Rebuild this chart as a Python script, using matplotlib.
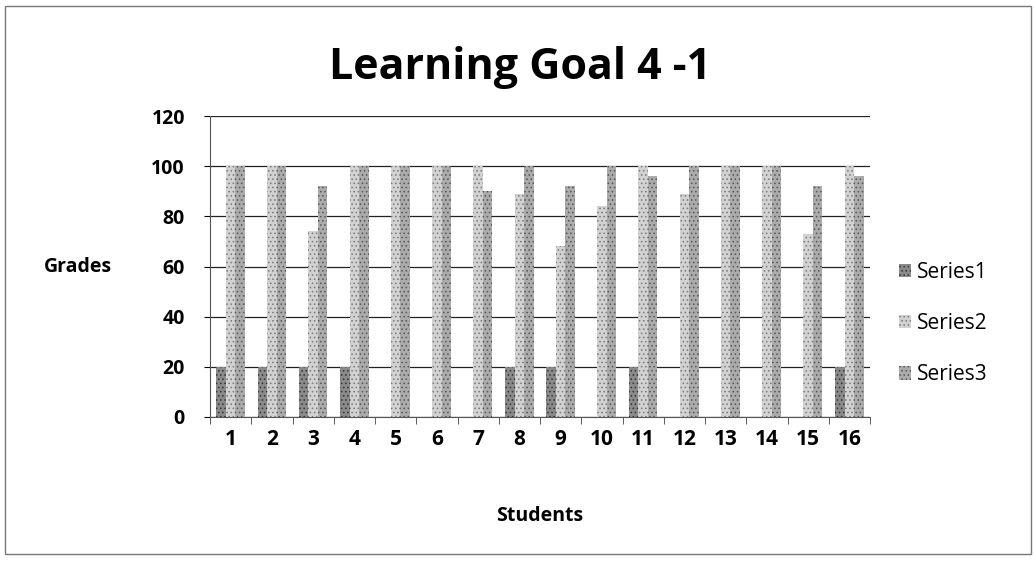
import numpy as np
import matplotlib.pyplot as plt
from matplotlib.patches import Rectangle

# data
students = [str(i) for i in range(1, 17)]
series1 = [20, 20, 20, 20, 0, 0, 0, 20, 20, 0, 20, 0, 0, 0, 0, 20]
series2 = [100, 100, 74, 100, 100, 100, 100, 89, 68, 84, 100, 89, 100, 100, 73, 100]
series3 = [100, 100, 92, 100, 100, 100, 90, 100, 92, 100, 96, 100, 100, 100, 92, 96]
series_names = ['Series1', 'Series2', 'Series3']

plt.rcParams['font.family'] = ['Open Sans', 'DejaVu Sans']
plt.rcParams['hatch.linewidth'] = 0.6

fig = plt.figure(figsize=(10.36, 5.61), dpi=100)
ax = fig.add_axes([0.2027, 0.2567, 0.6371, 0.5365])

x = np.arange(len(students))
w = 0.23
colors = ['#8a8a8a', '#d2d2d2', '#ababab']
hatch_cols = ['#333333', '#7a7a7a', '#555555']
for k, vals in enumerate([series1, series2, series3]):
    ax.bar(x + (k - 1) * w, vals, width=w, color=colors[k], edgecolor=hatch_cols[k],
           linewidth=0, hatch='....', label=series_names[k], zorder=3)

ax.set_xlim(-0.5, len(students) - 0.5)
ax.set_ylim(0, 120)
ax.set_yticks(range(0, 121, 20))
ax.set_xticks(x)
ax.set_xticklabels(students)
ax.set_xticks(np.arange(-0.5, len(students)), minor=True)
ax.tick_params(axis='x', which='major', length=0, pad=9, labelsize=15)
ax.tick_params(axis='x', which='minor', length=5, color='#444444')
ax.tick_params(axis='y', length=4, labelsize=14, pad=14)
for lab in ax.get_xticklabels() + ax.get_yticklabels():
    lab.set_fontweight('bold')

ax.grid(axis='y', color='#222222', linewidth=0.9, zorder=0)
for s in ['top', 'right']:
    ax.spines[s].set_visible(False)
ax.spines['left'].set_color('#555555')
ax.spines['bottom'].set_color('#555555')

ax.set_ylabel('Grades', rotation=0, fontsize=14, fontweight='bold', va='center')
ax.yaxis.set_label_coords(-0.2, 0.5)
ax.set_xlabel('Students', fontsize=14, fontweight='bold', labelpad=40)

fig.text(0.502, 0.88, 'Learning Goal 4 -1', ha='center', va='center',
         fontsize=31, fontweight='bold')

ax.legend(loc='center left', bbox_to_anchor=(1.015, 0.31), frameon=False,
          fontsize=15, handlelength=0.6, handleheight=0.6, handletextpad=0.3,
          labelspacing=1.45)

# outer border of the chart
fig.patches.append(Rectangle((0.005, 0.012), 0.99, 0.978, transform=fig.transFigure,
                             fill=False, edgecolor='#777777', linewidth=1))

fig.savefig('out.png', dpi=100)
